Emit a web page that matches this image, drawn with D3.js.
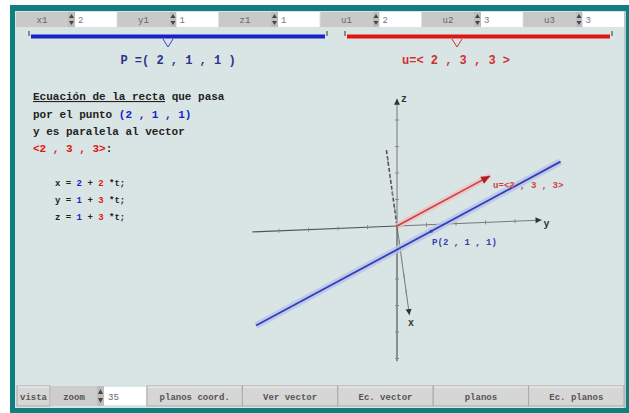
<!DOCTYPE html>
<html><head><meta charset="utf-8">
<script src="https://cdn.jsdelivr.net/npm/d3@7"></script>
<style>html,body{margin:0;padding:0;background:#fff;}svg{display:block;}</style>
</head><body>
<script>
// ---- data ----
const point = [2, 1, 1];
const vector = [2, 3, 3];
const paramLabels = ["x1", "y1", "z1", "u1", "u2", "u3"];
const paramValues = [2, 1, 1, 2, 3, 3];
const buttons = ["planos coord.", "Ver vector", "Ec. vector", "planos", "Ec. planos"];
const zoomValue = 35;
const axisNames = ["x", "y", "z"];
const axisRange = [[-4.6, 5.4], [-4.9, 4.9], [-5.1, 4.8]];
const lineT = [-1.88, 1.39];
const textLines = ["Ecuación de la recta que pasa", "por el punto ", "y es paralela al vector"];

const W = 629, H = 413;
const svg = d3.select("body").append("svg").attr("width", W).attr("height", H)
  .style("font-family", "'Liberation Mono', 'DejaVu Sans Mono', monospace");

const teal = "#107f80", panelBg = "#d9e4e4", blue = "#1a22c8", red = "#e01515";
svg.append("rect").attr("width", W).attr("height", H).attr("fill", "#fff");
svg.append("rect").attr("x", 10).attr("y", 5).attr("width", W - 10).attr("height", H - 5).attr("fill", teal);
svg.append("rect").attr("x", 15).attr("y", 11).attr("width", 611).attr("height", 397).attr("fill", panelBg);
svg.append("line").attr("x1", 625).attr("x2", 625).attr("y1", 11).attr("y2", 408).attr("stroke", "#9aa").attr("stroke-width", 1);

// ---- top toolbar ----
const gx = d3.scaleBand().domain(d3.range(6)).range([16, 625]);
const topG = svg.append("g");
paramLabels.forEach((lab, i) => {
  const x0 = gx(i), w = gx.bandwidth();
  topG.append("rect").attr("x", x0).attr("y", 12).attr("width", 52).attr("height", 15).attr("fill", "#c9c9c9");
  topG.append("text").attr("x", x0 + 26).attr("y", 23).attr("text-anchor", "middle").attr("font-size", 9).attr("fill", "#666").text(lab);
  topG.append("rect").attr("x", x0 + 52).attr("y", 12).attr("width", 7).attr("height", 15).attr("fill", "#bdbdbd");
  topG.append("path").attr("d", `M${x0+53},18 l2.5,-4 l2.5,4z M${x0+53},21 l2.5,4 l2.5,-4z`).attr("fill", "#444");
  topG.append("rect").attr("x", x0 + 59).attr("y", 12).attr("width", w - 60).attr("height", 15).attr("fill", "#fff");
  topG.append("text").attr("x", x0 + 62).attr("y", 23).attr("font-size", 9).attr("fill", "#777").text(paramValues[i]);
});

// sliders
function slider(x1, x2, mk, col) {
  svg.append("line").attr("x1", x1).attr("x2", x2).attr("y1", 36.5).attr("y2", 36.5).attr("stroke", col).attr("stroke-width", 4);
  svg.append("line").attr("x1", x1 - 2).attr("x2", x1 - 2).attr("y1", 31).attr("y2", 36).attr("stroke", "#333").attr("stroke-width", 1);
  svg.append("line").attr("x1", x2 + 2).attr("x2", x2 + 2).attr("y1", 31).attr("y2", 36).attr("stroke", "#333").attr("stroke-width", 1);
  svg.append("path").attr("d", `M${mk-5},39 L${mk},47 L${mk+5},39`).attr("fill", "none").attr("stroke", col === blue ? "#3344cc" : "#cc3333").attr("stroke-width", 1);
}
slider(31, 325, 168, blue);
slider(347, 610, 457, red);
svg.append("text").attr("x", 178).attr("y", 64).attr("text-anchor", "middle").attr("font-size", 12).attr("font-weight", "bold").attr("fill", "#2a3490")
  .text(`P =( ${point.join(" , ")} )`);
svg.append("text").attr("x", 456).attr("y", 64).attr("text-anchor", "middle").attr("font-size", 12).attr("font-weight", "bold").attr("fill", "#d03030")
  .text(`u=< ${vector.join(" , ")} >`);

// ---- left text ----
const tx = 33, fs = 11;
const tg = svg.append("g").attr("font-size", fs).attr("font-weight", "bold").attr("fill", "#222");
const t1 = tg.append("text").attr("x", tx).attr("y", 100);
t1.append("tspan").attr("text-decoration", "underline").text("Ecuación de la recta");
t1.append("tspan").text(" que pasa");
const t2 = tg.append("text").attr("x", tx).attr("y", 118);
t2.append("tspan").text(textLines[1]);
t2.append("tspan").attr("fill", blue).text(`(${point.join(" , ")})`);
tg.append("text").attr("x", tx).attr("y", 135).text(textLines[2]);
const t4 = tg.append("text").attr("x", tx).attr("y", 152);
t4.append("tspan").attr("fill", red).text(`<${vector.join(" , ")}>`);
t4.append("tspan").text(":");
axisNames.forEach((n, i) => {
  const t = tg.append("text").attr("x", 55).attr("y", 186 + i * 17).attr("font-size", 9);
  t.append("tspan").text(`${n} = `);
  t.append("tspan").attr("fill", blue).text(point[i]);
  t.append("tspan").text(" + ");
  t.append("tspan").attr("fill", red).text(vector[i]);
  t.append("tspan").text(" *t;");
});

// ---- 3D scene ----
const origin = [397, 226];
const ex = [2.3, 16.5], ey = [29.5, -1.2], ez = [0, -26.5];
const sx = d3.scaleLinear().domain([0, 1]).range([origin[0], origin[0] + 1]);
const sy = d3.scaleLinear().domain([0, 1]).range([origin[1], origin[1] + 1]);
const proj = p => [sx(p[0] * ex[0] + p[1] * ey[0] + p[2] * ez[0]), sy(p[0] * ex[1] + p[1] * ey[1] + p[2] * ez[1])];
const unit = i => [0, 1, 2].map(k => k === i ? 1 : 0);
const scl = (v, s) => v.map(c => c * s);
const add = (a, b) => a.map((c, k) => c + b[k]);

const scene = svg.append("g");
axisRange.forEach((r, i) => {
  const u = unit(i);
  const a = proj(scl(u, r[0])), o = proj([0, 0, 0]), b = proj(scl(u, r[1]));
  scene.append("line").attr("x1", a[0]).attr("y1", a[1]).attr("x2", o[0]).attr("y2", o[1])
    .attr("stroke", "#555").attr("stroke-width", i === 0 ? 1.6 : 1.2).attr("stroke-dasharray", i === 0 ? "4,2" : null);
  scene.append("line").attr("x1", o[0]).attr("y1", o[1]).attr("x2", b[0]).attr("y2", b[1]).attr("stroke", "#777").attr("stroke-width", 1);
  d3.range(Math.ceil(r[0]), Math.floor(r[1]) + 1).filter(v => v !== 0).forEach(v => {
    const p = proj(scl(u, v));
    const d = i === 2 ? [2, 0] : [0, 2];
    scene.append("line").attr("x1", p[0] - d[0]).attr("y1", p[1] - d[1]).attr("x2", p[0] + d[0]).attr("y2", p[1] + d[1]).attr("stroke", "#888").attr("stroke-width", 1);
  });
  const dir = [b[0] - o[0], b[1] - o[1]], L = Math.hypot(dir[0], dir[1]);
  const n = [dir[0] / L, dir[1] / L], pn = [-n[1], n[0]];
  const tip = b, base = [b[0] - n[0] * 6, b[1] - n[1] * 6];
  scene.append("path").attr("d", `M${tip[0]},${tip[1]} L${base[0]+pn[0]*3},${base[1]+pn[1]*3} L${base[0]-pn[0]*3},${base[1]-pn[1]*3}Z`).attr("fill", "#333");
  const lp = [b[0] + n[0] * 4 + (i === 2 ? 7 : 1), b[1] + n[1] * 4 + 7];
  scene.append("text").attr("x", lp[0]).attr("y", lp[1]).attr("font-size", 10).attr("font-weight", "bold").attr("fill", "#333").attr("text-anchor", "middle").text(axisNames[i]);
});

const lineGen = d3.line().x(d => d[0]).y(d => d[1]);
const lpts = lineT.map(t => proj(add(point, scl(vector, t))));
scene.append("path").attr("d", lineGen(lpts)).attr("stroke", "#b8c2ee").attr("stroke-width", 7).attr("fill", "none").attr("opacity", 0.8);
scene.append("path").attr("d", lineGen(lpts)).attr("stroke", "#3440b0").attr("stroke-width", 1.8).attr("fill", "none");

const vpts = [proj([0, 0, 0]), proj(vector)];
scene.append("path").attr("d", lineGen(vpts)).attr("stroke", "#efc0c0").attr("stroke-width", 6).attr("fill", "none").attr("opacity", 0.8);
scene.append("path").attr("d", lineGen(vpts)).attr("stroke", "#c84040").attr("stroke-width", 1.5).attr("fill", "none");
{
  const b = vpts[1], o = vpts[0], L = Math.hypot(b[0] - o[0], b[1] - o[1]);
  const n = [(b[0] - o[0]) / L, (b[1] - o[1]) / L], pn = [-n[1], n[0]];
  const base = [b[0] - n[0] * 9, b[1] - n[1] * 9];
  scene.append("path").attr("d", `M${b[0]},${b[1]} L${base[0]+pn[0]*4},${base[1]+pn[1]*4} L${base[0]-pn[0]*4},${base[1]-pn[1]*4}Z`).attr("fill", "#b02020");
  scene.append("text").attr("x", b[0] + 3).attr("y", b[1] + 12).attr("font-size", 9).attr("font-weight", "bold").attr("fill", "#d04040").text(`u=<${vector.join(" , ")}>`);
}
const pp = proj(point);
scene.append("circle").attr("cx", pp[0]).attr("cy", pp[1]).attr("r", 1.5).attr("fill", "#3440b0");
scene.append("text").attr("x", pp[0] + 1).attr("y", pp[1] + 14).attr("font-size", 9).attr("font-weight", "bold").attr("fill", "#3440b0").text(`P(${point.join(" , ")})`);

// ---- bottom toolbar ----
const bot = svg.append("g").attr("font-size", 9).attr("font-weight", "bold");
const by = 386, bh = 20;
function btn(x, w, label) {
  bot.append("rect").attr("x", x).attr("y", by).attr("width", w).attr("height", bh).attr("fill", "#d6d6d6").attr("stroke", "#aaa").attr("stroke-width", 1);
  bot.append("line").attr("x1", x + 1).attr("x2", x + w - 1).attr("y1", by + 1).attr("y2", by + 1).attr("stroke", "#f4f4f4");
  bot.append("text").attr("x", x + w / 2).attr("y", by + 14).attr("text-anchor", "middle").attr("fill", "#555").text(label);
}
btn(17, 33, "vista");
bot.append("rect").attr("x", 51).attr("y", by).attr("width", 46).attr("height", bh).attr("fill", "#cdcdcd");
bot.append("text").attr("x", 74).attr("y", by + 14).attr("text-anchor", "middle").attr("fill", "#555").text("zoom");
bot.append("rect").attr("x", 97).attr("y", by).attr("width", 7).attr("height", bh).attr("fill", "#bdbdbd");
bot.append("path").attr("d", `M98,${by+8} l2.5,-5 l2.5,5z M98,${by+12} l2.5,5 l2.5,-5z`).attr("fill", "#444");
bot.append("rect").attr("x", 104).attr("y", by + 1).attr("width", 42).attr("height", bh - 2).attr("fill", "#fff");
bot.append("text").attr("x", 108).attr("y", by + 14).attr("font-weight", "normal").attr("fill", "#666").text(zoomValue);
const bx = d3.scaleBand().domain(d3.range(buttons.length)).range([147, 624]);
buttons.forEach((b, i) => btn(bx(i), bx.bandwidth(), b));
</script>
</body></html>
